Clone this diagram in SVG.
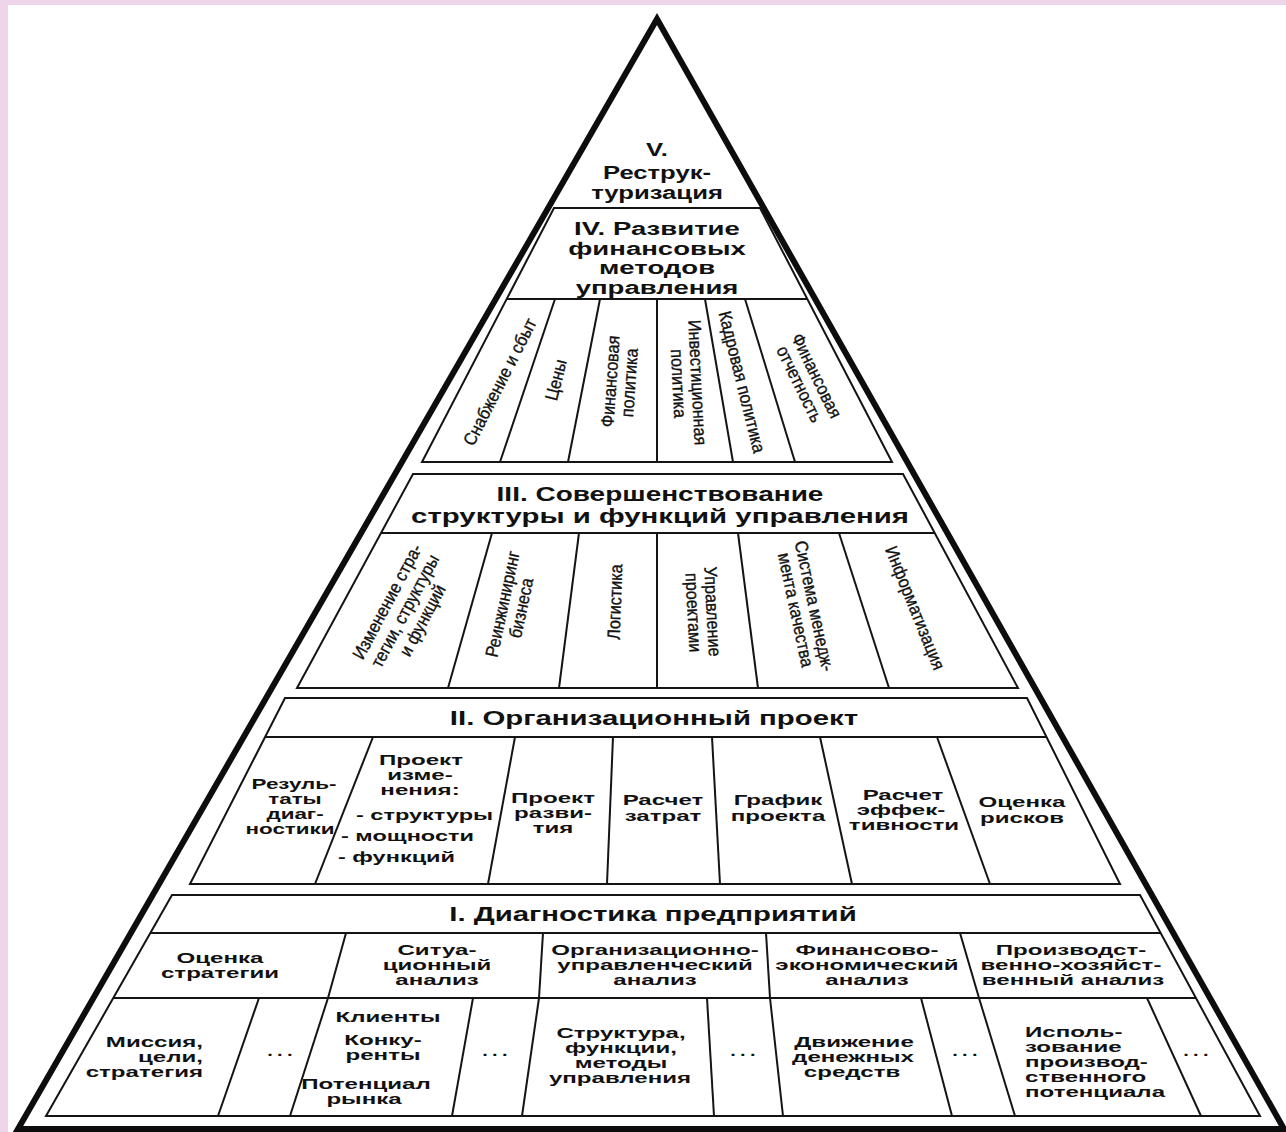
<svg xmlns="http://www.w3.org/2000/svg" width="1286" height="1132" viewBox="0 0 1286 1132">
<style>
.ln{fill:none;stroke:#141414;stroke-width:2;stroke-linejoin:miter}
.outer{fill:none;stroke:#0d0d0d;stroke-width:6;stroke-linejoin:miter;stroke-miterlimit:10}
.hv{font-family:"Liberation Sans",Arial,sans-serif;font-weight:bold;font-size:19px;fill:#111;text-anchor:middle}
.h{font-family:"Liberation Sans",Arial,sans-serif;font-weight:bold;font-size:20px;fill:#111;text-anchor:middle}
.b{font-family:"Liberation Sans",Arial,sans-serif;font-weight:bold;font-size:14px;fill:#111;text-anchor:middle}
.bs{font-family:"Liberation Sans",Arial,sans-serif;font-weight:bold;font-size:14px;fill:#111;text-anchor:start}
.be{font-family:"Liberation Sans",Arial,sans-serif;font-weight:bold;font-size:14px;fill:#111;text-anchor:end}
.r{font-family:"Liberation Sans",Arial,sans-serif;font-size:18px;fill:#111;stroke:#111;stroke-width:0.35;text-anchor:middle}
.dots{font-family:"Liberation Sans",Arial,sans-serif;font-weight:bold;font-size:14px;fill:#111;text-anchor:middle;letter-spacing:3px}
</style>
<rect x="0" y="0" width="1286" height="1132" fill="#ffffff"/>
<rect x="0" y="0" width="1286" height="5" fill="#efd5ea"/>
<rect x="0" y="0" width="8" height="1132" fill="#efd5ea"/>

<g id="pyramid-outline">
<polygon class="outer" points="657,19 18,1129 1284,1129"/>
</g>

<g id="tier-5">
<text class="hv" transform="translate(657,0) scale(1.35,1)" x="0" y="156">V.</text>
<text class="hv" transform="translate(657,0) scale(1.35,1)" x="0" y="179">Реструк-</text>
<text class="hv" transform="translate(657,0) scale(1.35,1)" x="0" y="199">туризация</text>
</g>

<g id="tier-4">
<polygon class="ln" points="554,208 760,208 892,462 422,462"/>
<line class="ln" x1="507" y1="299" x2="807" y2="299"/>
<text class="hv" transform="translate(657,0) scale(1.45,1)" x="0" y="235">IV. Развитие</text>
<text class="hv" transform="translate(657,0) scale(1.45,1)" x="0" y="255">финансовых</text>
<text class="hv" transform="translate(657,0) scale(1.45,1)" x="0" y="274">методов</text>
<text class="hv" transform="translate(657,0) scale(1.45,1)" x="0" y="294">управления</text>
<g id="t4-cells">
<g transform="translate(500,382) rotate(-63) scale(0.9,1)"><text class="r"><tspan x="0" y="6">Снабжение и сбыт</tspan></text></g>
<g transform="translate(556,380) rotate(-76) scale(0.9,1)"><text class="r"><tspan x="0" y="6">Цены</tspan></text></g>
<g transform="translate(620,382) rotate(-86) scale(0.9,1)"><text class="r"><tspan x="0" y="-3.5">Финансовая</tspan><tspan x="0" y="15.5">политика</tspan></text></g>
<g transform="translate(688,383) rotate(87) scale(0.9,1)"><text class="r"><tspan x="0" y="-3.5">Инвестиционная</tspan><tspan x="0" y="15.5">политика</tspan></text></g>
<g transform="translate(742,382) rotate(76) scale(0.9,1)"><text class="r"><tspan x="0" y="6">Кадровая политика</tspan></text></g>
<g transform="translate(808,380) rotate(64) scale(0.9,1)"><text class="r"><tspan x="0" y="-3.5">Финансовая</tspan><tspan x="0" y="15.5">отчетность</tspan></text></g>
</g>
</g>

<g id="tier-3">
<polygon class="ln" points="413,474 903,474 1018,688 297,688"/>
<line class="ln" x1="381" y1="533" x2="935" y2="533"/>
<text class="h" transform="translate(660,0) scale(1.4,1)" x="0" y="501">III. Совершенствование</text>
<text class="h" transform="translate(660,0) scale(1.47,1)" x="0" y="523">структуры и функций управления</text>
<g id="t3-cells">
<g transform="translate(405,611) rotate(-62) scale(0.9,1)"><text class="r"><tspan x="0" y="-14">Изменение стра-</tspan><tspan x="0" y="6">тегии, структуры</tspan><tspan x="0" y="26">и функций</tspan></text></g>
<g transform="translate(512,606) rotate(-78) scale(0.9,1)"><text class="r"><tspan x="0" y="-3.5">Реинжиниринг</tspan><tspan x="0" y="15.5">бизнеса</tspan></text></g>
<g transform="translate(615,602) rotate(-88) scale(0.9,1)"><text class="r"><tspan x="0" y="6">Логистика</tspan></text></g>
<g transform="translate(703,612) rotate(87) scale(0.9,1)"><text class="r"><tspan x="0" y="-3.5">Управление</tspan><tspan x="0" y="15.5">проектами</tspan></text></g>
<g transform="translate(805,608) rotate(78) scale(0.9,1)"><text class="r"><tspan x="0" y="-3.5">Система менедж-</tspan><tspan x="0" y="15.5">мента качества</tspan></text></g>
<g transform="translate(915,608) rotate(68) scale(0.9,1)"><text class="r"><tspan x="0" y="6">Информатизация</tspan></text></g>
</g>
</g>

<g id="tier-2">
<polygon class="ln" points="285,698 1027,698 1120,884 190,884"/>
<line class="ln" x1="265" y1="737" x2="1046" y2="737"/>
<text class="h" transform="translate(654,0) scale(1.47,1)" x="0" y="725">II. Организационный проект</text>
<g id="t2-cells">
<text class="b" transform="translate(294,0) scale(1.6,1)" x="0" y="789">Резуль-</text>
<text class="b" transform="translate(295,0) scale(1.6,1)" x="0" y="804">таты</text>
<text class="b" transform="translate(295,0) scale(1.6,1)" x="0" y="819">диаг-</text>
<text class="b" transform="translate(290,0) scale(1.6,1)" x="0" y="834">ностики</text>
<text class="b" transform="translate(421,0) scale(1.72,1)" x="0" y="765">Проект</text>
<text class="b" transform="translate(420,0) scale(1.72,1)" x="0" y="780">изме-</text>
<text class="b" transform="translate(420,0) scale(1.72,1)" x="0" y="795">нения:</text>
<text class="bs" transform="translate(356,0) scale(1.68,1)" x="0" y="820">- структуры</text>
<text class="bs" transform="translate(341,0) scale(1.68,1)" x="0" y="841">- мощности</text>
<text class="bs" transform="translate(338,0) scale(1.68,1)" x="0" y="862">- функций</text>
<text class="b" transform="translate(553,0) scale(1.72,1)" x="0" y="803">Проект</text>
<text class="b" transform="translate(553,0) scale(1.72,1)" x="0" y="818">разви-</text>
<text class="b" transform="translate(553,0) scale(1.72,1)" x="0" y="833">тия</text>
<text class="b" transform="translate(663,0) scale(1.72,1)" x="0" y="805">Расчет</text>
<text class="b" transform="translate(663,0) scale(1.72,1)" x="0" y="821">затрат</text>
<text class="b" transform="translate(778,0) scale(1.72,1)" x="0" y="805">График</text>
<text class="b" transform="translate(778,0) scale(1.72,1)" x="0" y="821">проекта</text>
<text class="b" transform="translate(903,0) scale(1.72,1)" x="0" y="800">Расчет</text>
<text class="b" transform="translate(901,0) scale(1.72,1)" x="0" y="815">эффек-</text>
<text class="b" transform="translate(904,0) scale(1.72,1)" x="0" y="830">тивности</text>
<text class="b" transform="translate(1022,0) scale(1.72,1)" x="0" y="807">Оценка</text>
<text class="b" transform="translate(1022,0) scale(1.72,1)" x="0" y="823">рисков</text>
</g>
</g>

<g id="tier-1">
<polygon class="ln" points="172,895 1140,895 1260,1116 46,1116"/>
<line class="ln" x1="150" y1="933" x2="1161" y2="933"/>
<line class="ln" x1="113" y1="998" x2="1196" y2="998"/>
<text class="h" transform="translate(653,0) scale(1.47,1)" x="0" y="921">I. Диагностика предприятий</text>
<g id="t1-groups">
<text class="b" transform="translate(220,0) scale(1.72,1)" x="0" y="963">Оценка</text>
<text class="b" transform="translate(220,0) scale(1.72,1)" x="0" y="978">стратегии</text>
<text class="b" transform="translate(437,0) scale(1.72,1)" x="0" y="955">Ситуа-</text>
<text class="b" transform="translate(437,0) scale(1.72,1)" x="0" y="970">ционный</text>
<text class="b" transform="translate(437,0) scale(1.72,1)" x="0" y="985">анализ</text>
<text class="b" transform="translate(655,0) scale(1.72,1)" x="0" y="955">Организационно-</text>
<text class="b" transform="translate(655,0) scale(1.72,1)" x="0" y="970">управленческий</text>
<text class="b" transform="translate(655,0) scale(1.72,1)" x="0" y="985">анализ</text>
<text class="b" transform="translate(867,0) scale(1.72,1)" x="0" y="955">Финансово-</text>
<text class="b" transform="translate(867,0) scale(1.72,1)" x="0" y="970">экономический</text>
<text class="b" transform="translate(867,0) scale(1.72,1)" x="0" y="985">анализ</text>
<text class="b" transform="translate(1071,0) scale(1.72,1)" x="0" y="955">Производст-</text>
<text class="b" transform="translate(1071,0) scale(1.72,1)" x="0" y="970">венно-хозяйст-</text>
<text class="b" transform="translate(1073,0) scale(1.72,1)" x="0" y="985">венный анализ</text>
</g>
<g id="t1-items">
<text class="be" transform="translate(203,0) scale(1.72,1)" x="0" y="1047">Миссия,</text>
<text class="be" transform="translate(203,0) scale(1.72,1)" x="0" y="1062">цели,</text>
<text class="be" transform="translate(203,0) scale(1.72,1)" x="0" y="1077">стратегия</text>
<text class="dots" transform="translate(282,0) scale(1.43,1)" x="0" y="1056">...</text>
<text class="b" transform="translate(388,0) scale(1.72,1)" x="0" y="1022">Клиенты</text>
<text class="b" transform="translate(383,0) scale(1.72,1)" x="0" y="1045">Конку-</text>
<text class="b" transform="translate(383,0) scale(1.72,1)" x="0" y="1060">ренты</text>
<text class="b" transform="translate(366,0) scale(1.72,1)" x="0" y="1089">Потенциал</text>
<text class="b" transform="translate(364,0) scale(1.72,1)" x="0" y="1104">рынка</text>
<text class="dots" transform="translate(497,0) scale(1.43,1)" x="0" y="1056">...</text>
<text class="b" transform="translate(621,0) scale(1.72,1)" x="0" y="1038">Структура,</text>
<text class="b" transform="translate(621,0) scale(1.72,1)" x="0" y="1053">функции,</text>
<text class="b" transform="translate(621,0) scale(1.72,1)" x="0" y="1068">методы</text>
<text class="b" transform="translate(620,0) scale(1.72,1)" x="0" y="1083">управления</text>
<text class="dots" transform="translate(745,0) scale(1.43,1)" x="0" y="1056">...</text>
<text class="b" transform="translate(854,0) scale(1.72,1)" x="0" y="1047">Движение</text>
<text class="b" transform="translate(853,0) scale(1.72,1)" x="0" y="1062">денежных</text>
<text class="b" transform="translate(852,0) scale(1.72,1)" x="0" y="1077">средств</text>
<text class="dots" transform="translate(967,0) scale(1.43,1)" x="0" y="1056">...</text>
<text class="bs" transform="translate(1025,0) scale(1.72,1)" x="0" y="1037">Исполь-</text>
<text class="bs" transform="translate(1025,0) scale(1.72,1)" x="0" y="1052">зование</text>
<text class="bs" transform="translate(1025,0) scale(1.72,1)" x="0" y="1067">производ-</text>
<text class="bs" transform="translate(1025,0) scale(1.72,1)" x="0" y="1082">ственного</text>
<text class="bs" transform="translate(1025,0) scale(1.72,1)" x="0" y="1097">потенциала</text>
<text class="dots" transform="translate(1198,0) scale(1.43,1)" x="0" y="1056">...</text>
</g>
</g>

<g id="dividers">
<line class="ln" x1="555" y1="299" x2="500" y2="462"/>
<line class="ln" x1="600" y1="299" x2="568" y2="462"/>
<line class="ln" x1="657" y1="299" x2="657" y2="462"/>
<line class="ln" x1="705" y1="299" x2="733" y2="462"/>
<line class="ln" x1="745" y1="299" x2="795" y2="462"/>

<line class="ln" x1="492" y1="533" x2="448" y2="688"/>
<line class="ln" x1="579" y1="533" x2="559" y2="688"/>
<line class="ln" x1="657" y1="533" x2="657" y2="688"/>
<line class="ln" x1="738" y1="533" x2="758" y2="688"/>
<line class="ln" x1="839" y1="533" x2="889" y2="688"/>

<line class="ln" x1="373" y1="737" x2="315" y2="884"/>
<line class="ln" x1="515" y1="737" x2="488" y2="884"/>
<line class="ln" x1="613" y1="737" x2="607" y2="884"/>
<line class="ln" x1="712" y1="737" x2="720" y2="884"/>
<line class="ln" x1="820" y1="737" x2="852" y2="884"/>
<line class="ln" x1="937" y1="737" x2="990" y2="884"/>

<line class="ln" x1="346" y1="933" x2="328" y2="998"/>
<line class="ln" x1="543" y1="933" x2="539" y2="998"/>
<line class="ln" x1="766" y1="933" x2="770" y2="998"/>
<line class="ln" x1="960" y1="933" x2="979" y2="998"/>

<line class="ln" x1="259" y1="998" x2="218" y2="1116"/>
<line class="ln" x1="328" y1="998" x2="290" y2="1116"/>
<line class="ln" x1="473" y1="998" x2="452" y2="1116"/>
<line class="ln" x1="539" y1="998" x2="522" y2="1116"/>
<line class="ln" x1="707" y1="998" x2="714" y2="1116"/>
<line class="ln" x1="770" y1="998" x2="783" y2="1116"/>
<line class="ln" x1="921" y1="998" x2="952" y2="1116"/>
<line class="ln" x1="979" y1="998" x2="1015" y2="1116"/>
<line class="ln" x1="1147" y1="998" x2="1201" y2="1116"/>
</g>
</svg>
